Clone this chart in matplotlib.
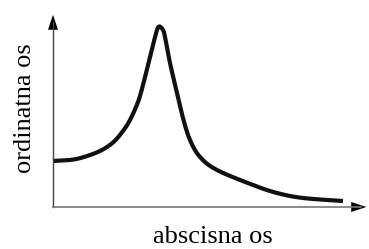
import matplotlib.pyplot as plt
import numpy as np
from matplotlib.patches import FancyArrowPatch

# curve points (x from the y axis, y up from the x axis, pixels)
curve_x = [0, 17, 30, 47, 60, 70, 77, 85, 90, 95, 100, 104, 106.5, 110, 112, 117, 124, 130, 137, 147, 164, 200, 224, 250, 290]
curve_y = [46, 47, 49.7, 56, 64.5, 76, 87, 105, 122, 142, 162, 177, 180.5, 177, 170, 144, 114, 89, 67, 50, 37, 22, 14, 9, 6]

xlabel = "abscisna os"
ylabel = "ordinatna os"

plt.rcParams["font.family"] = ["Liberation Serif", "DejaVu Serif"]


def catmull_rom(px, py, n=20):
    p = np.column_stack([px, py]).astype(float)
    p = np.vstack([p[0], p, p[-1]])
    out = []
    for i in range(1, len(p) - 2):
        p0, p1, p2, p3 = p[i - 1], p[i], p[i + 1], p[i + 2]
        for t in np.linspace(0, 1, n, endpoint=False):
            t2, t3 = t * t, t * t * t
            out.append(0.5 * (2 * p1 + (-p0 + p2) * t + (2 * p0 - 5 * p1 + 4 * p2 - p3) * t2
                              + (-p0 + 3 * p1 - 3 * p2 + p3) * t3))
    out.append(p[-2])
    out = np.array(out)
    return out[:, 0], out[:, 1]


fig = plt.figure(figsize=(3.69, 2.49), dpi=100)
ax = fig.add_axes([53 / 369, 42 / 249, 316 / 369, 195 / 249])
ax.set_xlim(0, 316)
ax.set_ylim(0, 195)
ax.axis("off")

xs, ys = catmull_rom(curve_x, curve_y)
ax.plot(xs, ys, color="#111111", lw=3, solid_capstyle="butt", clip_on=False)

# axes with arrows
ax.plot([0, 0], [0, 185], color="#444444", lw=1, clip_on=False)
ax.plot([0, 308], [0, 0], color="#777777", lw=1.2, clip_on=False)
ax.add_patch(FancyArrowPatch((0, 183), (0, 195), arrowstyle="-|>,head_length=0.9,head_width=0.3",
                             mutation_scale=12, color="black", lw=0, clip_on=False))
ax.add_patch(FancyArrowPatch((305, 0), (316, 0), arrowstyle="-|>,head_length=0.9,head_width=0.3",
                             mutation_scale=12, color="black", lw=0, clip_on=False))

fig.text(213 / 369, 1 - 237 / 249, xlabel, ha="center", va="center", fontsize=19)
fig.text(25 / 369, 1 - 108 / 249, ylabel, ha="center", va="center", rotation=90, fontsize=19)

fig.savefig("out.png", dpi=100)
